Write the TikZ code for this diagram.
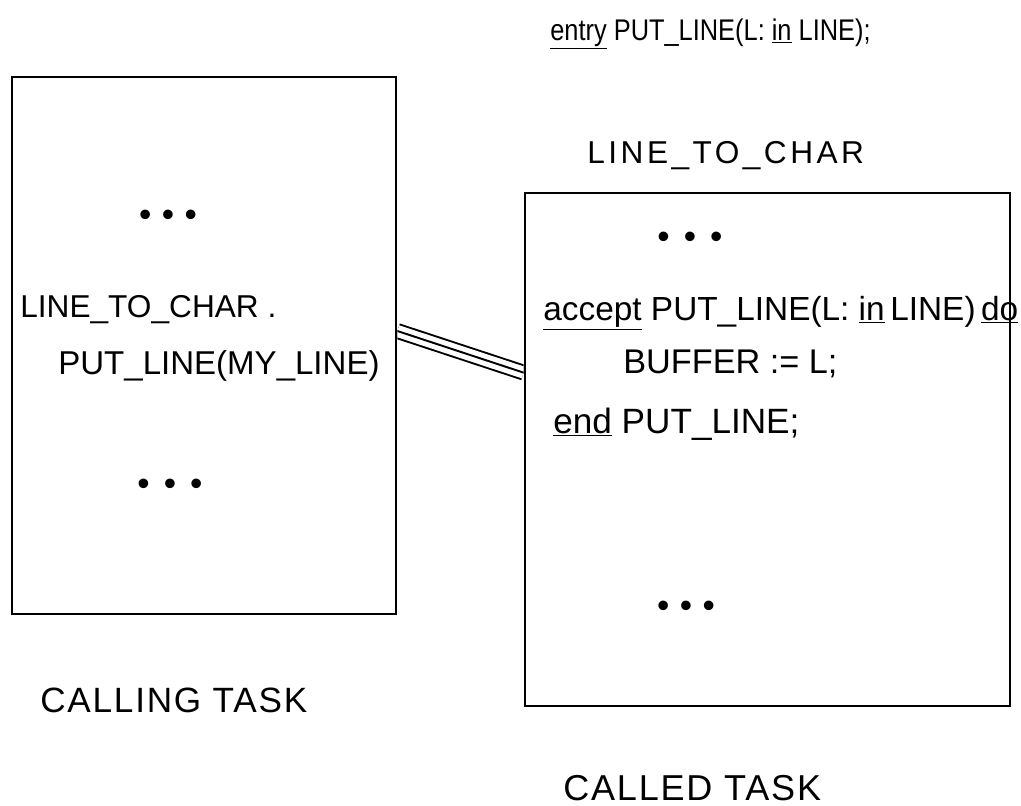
\documentclass[tikz,border=0pt]{standalone}
\usepackage{fontspec}
\setmainfont{Liberation Sans}
\usetikzlibrary{calc}

% keyword underline
\newcommand\kw[1]{\underline{#1}}
\newcommand\fs[1]{\fontsize{#1}{#1}\selectfont}

\tikzset{
  taskbox/.style={draw, line width=1.6pt, inner sep=0pt},
  label/.style={inner sep=0pt, anchor=base west},
  dotrow/.style={inner sep=0pt, anchor=center},
  railouter/.style={line width=1.1pt, double distance=6.8pt},
  railmid/.style={line width=1.1pt},
}

\begin{document}
\begin{tikzpicture}[x=0.02cm, y=-0.02cm]
  \useasboundingbox (0,0) rectangle (1021,805);

  % the two tasks
  \node[taskbox, minimum width=7.68cm, minimum height=10.74cm] (caller) at (204,345.5) {};
  \node[taskbox, minimum width=9.7cm, minimum height=10.26cm] (callee) at (767.5,449.5) {};

  % entry declaration and task name
  \node[label, font=\fs{17}] (entry) at (550,40)
    {\scalebox{0.85}[1]{\kw{entry} PUT\_LINE(L: \kw{in} LINE);}};
  \node[label, font=\fs{18}\addfontfeatures{LetterSpace=11}] (calleename) at (587,163)
    {LINE\_TO\_CHAR};

  % calling task body
  \node[dotrow, font=\fs{20}] (cdots1) at (168,218) {•\hspace{6pt}•\hspace{6pt}•};
  \node[label, font=\fs{18}] (call1) at (20,317) {LINE\_TO\_CHAR .};
  \node[label, font=\fs{18.8}] (call2) at (58,374) {PUT\_LINE(MY\_LINE)};
  \node[dotrow, font=\fs{20}] (cdots2) at (170,487) {•\hspace{8pt}•\hspace{8pt}•};

  % called task body
  \node[dotrow, font=\fs{20}] (adots1) at (690,240) {•\hspace{8pt}•\hspace{8pt}•};
  \node[label, font=\fs{19}] (acc1) at (543,320)
    {\kw{accept} PUT\_LINE(L: \kw{in}\,LINE)\,\kw{do}};
  \node[label, font=\fs{19.5}] (acc2) at (623,373) {BUFFER := L;};
  \node[label, font=\fs{20}] (acc3) at (553,433) {\kw{end} PUT\_LINE;};
  \node[dotrow, font=\fs{20}] (adots2) at (686,609) {•\hspace{6pt}•\hspace{6pt}•};

  % captions
  \node[label, font=\fs{20}\addfontfeatures{LetterSpace=5}] (callingcap) at (40,712) {CALLING TASK};
  \node[label, font=\fs{20.5}\addfontfeatures{LetterSpace=5}] (calledcap) at (563,800) {CALLED TASK};

  % rendezvous link between the entry call and the accept
  \coordinate (linkA) at ($(caller.east)+(0,-14.5)$);
  \coordinate (linkB) at ($(callee.north west)+(0,181)$);
  \begin{scope}
    \clip (caller.north east) rectangle (callee.south west);
    \draw[railouter] (linkA) -- (linkB);
    \draw[railmid] (linkA) -- (linkB);
  \end{scope}
\end{tikzpicture}
\end{document}
